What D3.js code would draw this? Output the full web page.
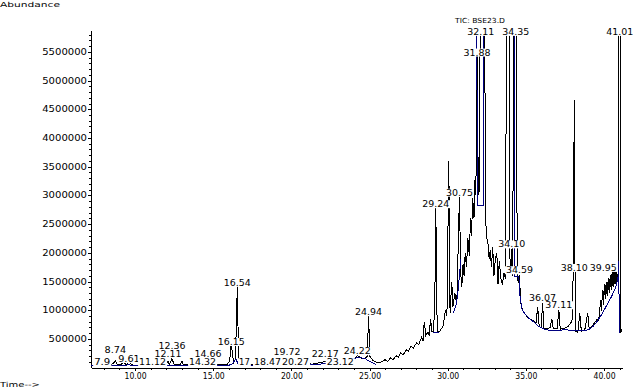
<!doctype html>
<html lang="en">
<head>
<meta charset="UTF-8">
<title>TIC: BSE23.D</title>
<script src="https://cdn.jsdelivr.net/npm/d3@7"></script>
<style>
    body { margin: 0; background: #fff; }
    svg { display: block; }
    text { font-family: "DejaVu Sans", sans-serif; fill: #000; }
</style>
</head>
<body>
<svg width="637" height="388"></svg>
<script>
// retention time (min), abundance
const trace = [
    [7.20, 40000], [7.50, 45000], [7.80, 60000], [7.90, 110000], [8.00, 50000],
    [8.30, 45000], [8.60, 70000], [8.74, 120000], [8.85, 55000], [9.10, 60000],
    [9.30, 90000], [9.45, 50000], [9.61, 150000], [9.75, 50000], [10.20, 40000],
    [10.70, 45000], [11.00, 60000], [11.12, 100000], [11.25, 45000], [11.70, 50000],
    [12.00, 70000], [12.10, 110000], [12.20, 60000], [12.36, 160000], [12.50, 50000],
    [12.90, 60000], [13.00, 110000], [13.10, 50000], [13.60, 45000], [14.00, 55000],
    [14.32, 80000], [14.45, 55000], [14.66, 120000], [14.80, 55000], [15.30, 50000],
    [15.90, 60000], [16.05, 120000], [16.15, 420000], [16.30, 90000], [16.42, 140000],
    [16.54, 1420000], [16.62, 180000], [16.75, 90000], [17.00, 120000], [17.20, 60000],
    [17.60, 50000], [18.00, 55000], [18.47, 80000], [18.70, 55000], [19.10, 100000],
    [19.40, 70000], [19.72, 140000], [19.90, 80000], [20.27, 130000], [20.50, 70000],
    [20.90, 90000], [21.30, 60000], [21.70, 80000], [22.17, 110000], [22.40, 70000],
    [22.80, 100000], [23.12, 130000], [23.40, 110000], [23.80, 170000], [24.00, 150000],
    [24.22, 210000], [24.45, 170000], [24.70, 160000], [24.85, 200000], [24.94, 900000],
    [25.02, 200000], [25.20, 130000], [25.40, 100000], [25.60, 80000], [25.80, 110000],
    [26.00, 140000], [26.15, 110000], [26.35, 170000], [26.50, 140000], [26.70, 210000],
    [26.85, 180000], [27.00, 260000], [27.15, 220000], [27.35, 310000], [27.50, 290000],
    [27.65, 380000], [27.80, 340000], [28.00, 430000], [28.15, 400000], [28.34, 540000],
    [28.42, 460000], [28.50, 800000], [28.60, 560000], [28.73, 620000], [28.82, 560000],
    [28.90, 850000], [29.00, 620000], [29.10, 640000], [29.18, 1300000], [29.24, 2780000],
    [29.30, 1000000], [29.38, 620000], [29.50, 640000], [29.70, 720000], [29.85, 1000000],
    [29.95, 900000], [30.07, 3600000], [30.15, 950000], [30.26, 1500000], [30.33, 1050000],
    [30.45, 1300000], [30.58, 1100000], [30.75, 2980000], [30.83, 1650000], [30.90, 1400000],
    [30.98, 1800000], [31.05, 1600000], [31.12, 2000000], [31.20, 1750000], [31.29, 2250000],
    [31.38, 1950000], [31.46, 2600000], [31.52, 2300000], [31.60, 2950000], [31.68, 2600000],
    [31.75, 3300000], [31.80, 3000000], [31.88, 5420000], [31.96, 3000000], [32.04, 3100000],
    [32.08, 6500000], [32.36, 6500000], [32.42, 2600000], [32.50, 2270000], [32.58, 2150000],
    [32.65, 1900000], [32.72, 2050000], [32.80, 1750000], [32.88, 2100000], [32.96, 1600000],
    [33.05, 1900000], [33.14, 2000000], [33.22, 1450000], [33.30, 1850000], [33.40, 1550000],
    [33.50, 1450000], [33.60, 1650000], [33.70, 1550000], [33.76, 6500000], [33.92, 6500000],
    [33.98, 1900000], [34.05, 1750000], [34.10, 2070000], [34.16, 1600000], [34.22, 6500000],
    [34.38, 6500000], [34.45, 1550000], [34.52, 1500000], [34.59, 1620000], [34.66, 1150000],
    [34.78, 1000000], [34.95, 930000], [35.15, 870000], [35.40, 830000], [35.65, 780000],
    [35.76, 1060000], [35.85, 720000], [35.98, 700000], [36.07, 1130000], [36.15, 690000],
    [36.35, 680000], [36.55, 700000], [36.66, 850000], [36.75, 680000], [37.00, 680000],
    [37.11, 1010000], [37.20, 670000], [37.50, 690000], [37.70, 720000], [37.90, 790000],
    [38.00, 880000], [38.10, 4660000], [38.16, 640000], [38.32, 610000], [38.45, 950000],
    [38.55, 630000], [38.77, 660000], [38.96, 950000], [39.05, 680000], [39.28, 740000],
    [39.45, 800000], [39.55, 850000], [39.65, 820000], [39.70, 920000], [39.78, 1180000],
    [39.84, 980000], [39.90, 1350000], [39.96, 1100000], [40.02, 1450000], [40.08, 1200000],
    [40.14, 1500000], [40.20, 1250000], [40.27, 1560000], [40.33, 1300000], [40.40, 1620000],
    [40.46, 1350000], [40.52, 1680000], [40.58, 1400000], [40.64, 1700000], [40.70, 1450000],
    [40.76, 1750000], [40.82, 1500000], [40.90, 1650000], [40.96, 6500000], [41.04, 6500000],
    [41.07, 600000], [41.15, 680000]
];

// integration baseline (blue), null breaks the line
const baseline = [
    [7.20, 30000], [8.00, 35000], [9.00, 35000], [9.60, 50000], [10.00, 30000],
    [11.00, 30000], [12.36, 45000], [13.00, 30000], [14.00, 30000], [14.66, 45000],
    [15.90, 35000], [16.20, 60000], [16.45, 150000], [16.60, 60000], [17.00, 40000],
    [18.50, 40000], [19.20, 70000], [19.70, 90000], [20.30, 80000], [21.00, 55000],
    [21.60, 50000], [22.20, 80000], [22.80, 90000], [23.30, 120000], [23.80, 150000],
    [24.30, 180000], [24.70, 160000], [25.00, 110000], [25.40, 60000],
    null,
    [29.03, 620000], [29.45, 620000],
    null,
    [30.35, 950000], [30.55, 1100000], [30.65, 1300000], [30.85, 1900000],
    null,
    [31.87, 6500000], [31.88, 2830000], [32.30, 2830000], [32.31, 6500000],
    null,
    [34.24, 6500000], [34.26, 1580000], [34.55, 1580000], [34.62, 1250000], [34.75, 1020000],
    [34.95, 930000], [35.20, 860000], [35.50, 800000], [35.80, 720000], [36.10, 680000],
    [36.50, 650000], [37.00, 650000], [37.50, 660000], [38.00, 650000], [38.50, 640000],
    [39.00, 660000], [39.30, 720000], [39.60, 820000], [39.90, 950000], [40.20, 1100000],
    [40.50, 1250000], [40.75, 1400000], [40.90, 1580000], [40.95, 1850000], [40.97, 600000]
];

// peak labels: text, retention time, abundance level under the label
const peakText = ["7.9", "8.74", "9.61", "11.12", "12.11", "12.36", "14.32", "14.66",
    "16.15", "16.54", "17", "18.47", "19.72", "20.27", "22.17", "23.12", "24.22", "24.94",
    "29.24", "30.75", "31.88", "32.11", "34.35", "34.10", "34.59", "36.07", "37.11",
    "38.10", "39.95", "41.01"];
const peakTime = [7.90, 8.74, 9.61, 11.12, 12.11, 12.36, 14.32, 14.66,
    16.15, 16.54, 17.00, 18.47, 19.72, 20.27, 22.17, 23.12, 24.22, 24.94,
    29.24, 30.75, 31.88, 32.11, 34.35, 34.10, 34.59, 36.07, 37.11,
    38.10, 39.95, 41.01];
const peakLevel = [10000, 220000, 65000, 10000, 150000, 290000, 10000, 150000,
    360000, 1390000, 10000, 10000, 190000, 10000, 150000, 10000, 200000, 880000,
    2760000, 2960000, 5400000, 5760000, 5760000, 2060000, 1610000, 1120000, 1000000,
    1650000, 1650000, 5760000];

const yTicks = [500000, 1000000, 1500000, 2000000, 2500000, 3000000,
    3500000, 4000000, 4500000, 5000000, 5500000];
const xTicks = [10, 15, 20, 25, 30, 35, 40];

const svg = d3.select("svg");
const x = d3.scaleLinear().domain([7.18, 41.15]).range([91, 622]);
const y = d3.scaleLinear().domain([0, 5880000]).range([367.7, 30]);

svg.append("defs").append("clipPath").attr("id", "plot")
    .append("rect").attr("x", 91).attr("y", 30).attr("width", 532).attr("height", 340);

// axes
const yAxis = svg.append("g").attr("transform", "translate(91,0)")
    .call(d3.axisLeft(y).tickValues(yTicks).tickSize(3).tickSizeOuter(0)
        .tickFormat(d3.format("d")));
yAxis.selectAll("text")
    .style("font-size", "8px")
    .attr("x", -4)
    .attr("textLength", d => d3.format("d")(d).length * 6.4)
    .attr("lengthAdjust", "spacingAndGlyphs");
svg.append("g").attr("transform", "translate(91,0)")
    .call(d3.axisLeft(y).tickValues(d3.range(100000, 5900000, 100000)).tickSize(2)
        .tickSizeOuter(0).tickFormat(""))
    .select(".domain").remove();

const xAxis = svg.append("g").attr("transform", "translate(0,368)")
    .call(d3.axisBottom(x).tickValues(xTicks).tickSize(3).tickSizeOuter(0)
        .tickFormat(d3.format(".2f")));
xAxis.selectAll("text")
    .style("font-size", "8px")
    .attr("y", 8).attr("dy", "0.35em")
    .attr("textLength", 22)
    .attr("lengthAdjust", "spacingAndGlyphs");
svg.append("g").attr("transform", "translate(0,368)")
    .call(d3.axisBottom(x).tickValues(d3.range(8, 42, 1)).tickSize(2)
        .tickSizeOuter(0).tickFormat(""))
    .select(".domain").remove();

svg.selectAll(".domain, .tick line")
    .attr("stroke", "#000").attr("shape-rendering", "crispEdges");

// trace + baseline
const line = d3.line().defined(d => d).x(d => x(d[0])).y(d => y(d[1]));
const g = svg.append("g").attr("clip-path", "url(#plot)");
g.append("path").datum(trace)
    .attr("d", line)
    .attr("fill", "none").attr("stroke", "#000").attr("stroke-width", 1)
    .attr("shape-rendering", "crispEdges");
g.append("path").datum(baseline)
    .attr("d", line)
    .attr("fill", "none").attr("stroke", "#000080").attr("stroke-width", 1)
    .attr("shape-rendering", "crispEdges");

// peak labels with white boxes
const labels = svg.append("g");
peakText.forEach((t, i) => {
    const w = t.length * 5.4;
    const cx = x(peakTime[i]);
    const yb = y(peakLevel[i]) - 2;
    labels.append("rect")
        .attr("x", cx - w / 2 - 1).attr("y", yb - 7)
        .attr("width", w + 2).attr("height", 8)
        .attr("fill", "#fff");
    labels.append("text")
        .attr("x", cx).attr("y", yb)
        .attr("text-anchor", "middle")
        .style("font-size", "8px")
        .attr("textLength", w)
        .attr("lengthAdjust", "spacingAndGlyphs")
        .text(t);
});

// titles
svg.append("text").attr("x", 0).attr("y", 7)
    .style("font-size", "7px")
    .attr("textLength", 60).attr("lengthAdjust", "spacingAndGlyphs")
    .text("Abundance");
svg.append("text").attr("x", 480).attr("y", 23)
    .attr("text-anchor", "middle")
    .style("font-size", "7px")
    .attr("textLength", 50).attr("lengthAdjust", "spacingAndGlyphs")
    .text("TIC: BSE23.D");
svg.append("text").attr("x", 0).attr("y", 387)
    .style("font-size", "7px")
    .attr("textLength", 40).attr("lengthAdjust", "spacingAndGlyphs")
    .text("Time-->");
</script>
</body>
</html>
